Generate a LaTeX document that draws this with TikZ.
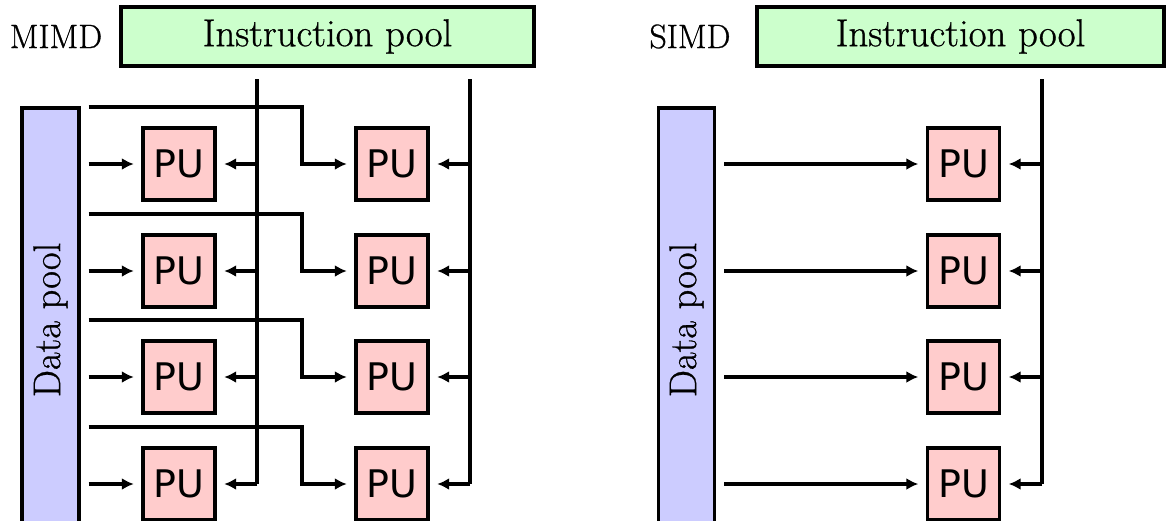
\documentclass[tikz,border=0pt]{standalone}
\usepackage{fontspec}
\setmainfont{Latin Modern Roman}[FakeBold=0.8]
\newfontfamily\pufont{DejaVu Sans}
\usetikzlibrary{arrows.meta,calc}
\definecolor{ipgreen}{HTML}{CCFFCC}
\definecolor{dpblue}{HTML}{CCCCFF}
\definecolor{pupink}{HTML}{FFCCCC}
\tikzset{
  ipbox/.style={draw=black,fill=ipgreen,line width=3.4pt,inner sep=0pt,
    minimum width=413pt,minimum height=59pt,font=\fontsize{38.8}{42}\selectfont},
  dpbox/.style={draw=black,fill=dpblue,line width=3.4pt,inner sep=0pt,
    minimum width=57pt,minimum height=424pt},
  dptext/.style={rotate=90,font=\fontsize{38.5}{42}\selectfont},
  pubox/.style={draw=black,fill=pupink,line width=3.4pt,inner sep=0pt,
    minimum width=72pt,minimum height=72pt,font=\pufont\fontsize{38}{40}\selectfont},
  lbl/.style={font=\fontsize{33.8}{36}\selectfont,inner sep=0pt},
  wire/.style={line width=3.2pt},
  conn/.style={line width=3.2pt,-{Latex[length=12pt,width=12pt]},shorten >=7.5pt},
}
\begin{document}
\begin{tikzpicture}[x=1pt,y=-1pt]
\useasboundingbox (0,0) rectangle (1166,520);
\clip (0,0) rectangle (1166,520);
% ---------- MIMD ----------
\node[lbl] (mimd) at (56,36.5) {MIMD};
\node[ipbox] (mip) at (327.5,36.5) {Instruction pool};
\node[dpbox] (mdp) at (50.5,320) {};
\node[dptext] (mdpt) at (mdp.center) {Data pool};
\foreach \r/\y in {1/164,2/271,3/377,4/484}{
  \node[pubox] (a\r) at (179,\y) {PU};
  \node[pubox] (b\r) at (392,\y) {PU};
}
\coordinate (v1) at (257,79);
\coordinate (v2) at (470,79);
\draw[wire] (v1) -- (v1 |- a4);
\draw[wire] (v2) -- (v2 |- b4);
\foreach \r in {1,2,3,4}{
  \draw[conn] (v1 |- a\r) -- (a\r.east);
  \draw[conn] (v2 |- b\r) -- (b\r.east);
  \draw[conn,shorten <=8pt] (mdp.east |- a\r) -- (a\r.west);
  \coordinate (s\r) at ($(a\r.center)+(0,-57)$);
  \coordinate (k\r) at (302,0);
  \draw[conn,shorten <=8pt] (mdp.east |- s\r) -- (k\r |- s\r) -- (k\r |- b\r) -- (b\r.west);
}
% ---------- SIMD ----------
\node[lbl] (simd) at (690,36.5) {SIMD};
\node[ipbox,minimum width=407pt] (sip) at (960.5,36.5) {Instruction pool};
\node[dpbox,minimum width=56pt] (sdp) at (686.5,320) {};
\node[dptext] (sdpt) at (sdp.center) {Data pool};
\foreach \r/\y in {1/164,2/271,3/377,4/484}{
  \node[pubox] (c\r) at (963.5,\y) {PU};
}
\coordinate (v3) at (1042,79);
\draw[wire] (v3) -- (v3 |- c4);
\foreach \r in {1,2,3,4}{
  \draw[conn] (v3 |- c\r) -- (c\r.east);
  \draw[conn,shorten <=8pt] (sdp.east |- c\r) -- (c\r.west);
}
\end{tikzpicture}
\end{document}
